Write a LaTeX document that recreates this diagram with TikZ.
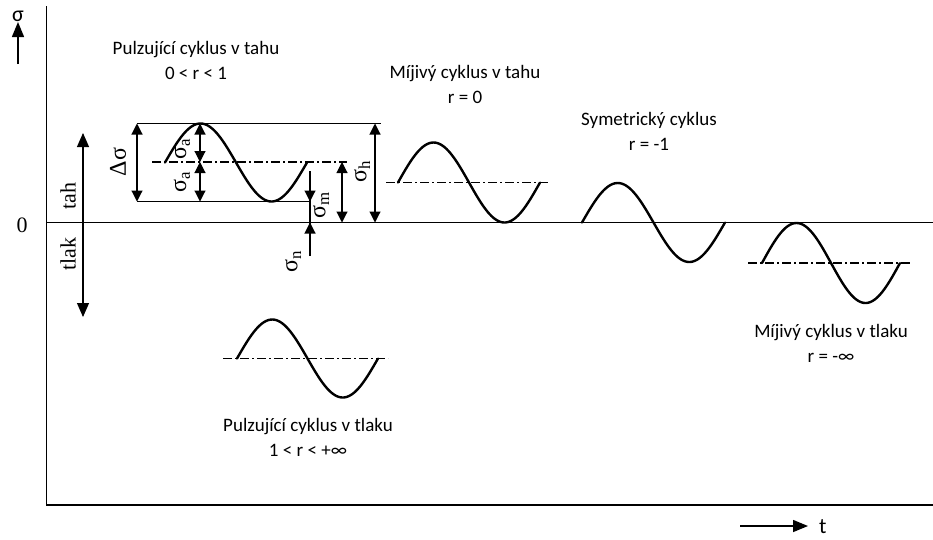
\documentclass[tikz,border=0pt]{standalone}
\usepackage{fontspec}
\setmainfont{Carlito}
\newfontfamily\serfont{Liberation Serif}
\usetikzlibrary{arrows.meta}
\begin{document}
\begin{tikzpicture}[x=1pt,y=-1pt,
  axis/.style={line width=1.6pt},
  curve/.style={line width=2.4pt, line cap=round},
  meanline/.style={line width=1.2pt, dash pattern=on 9pt off 3pt on 2pt off 3pt},
  dimline/.style={line width=1.1pt},
  tip/.style={line width=1.1pt, -{Triangle[length=11pt,width=11pt]}},
  dimarr/.style={line width=1.1pt, {Triangle[length=11pt,width=11pt]}-{Triangle[length=11pt,width=11pt]}},
  lab/.style={font=\fontsize{19}{25}\selectfont, align=center, inner sep=0pt},
  glab/.style={font=\serfont\fontsize{24}{26}\selectfont, rotate=90, inner sep=0pt},
  wlab/.style={font=\serfont\fontsize{22}{24}\selectfont, rotate=90, inner sep=0pt},
]
\useasboundingbox (0,0) rectangle (933,539);
\fill[white] (0,0) rectangle (933,539);

% axes
\coordinate (Atop) at (46.5,6);
\coordinate (Abot) at (46.5,505);
\coordinate (Aend) at (933,505);
\coordinate (Zl) at (46.5,222.5);
\coordinate (Zr) at (933,222.5);
\draw[axis] (Atop) -- (Abot) -- (Aend);
\draw[axis] (Zl) -- (Zr);

% sigma axis arrow
\node[font=\fontsize{22}{24}\selectfont, inner sep=0pt] (sig) at (18,16) {σ};
\coordinate (sA) at (18,64);
\coordinate (sB) at (18,22);
\draw[line width=1.4pt, -{Triangle[length=15pt,width=12pt]}] (sA) -- (sB);

% t arrow
\coordinate (tA) at (740,526);
\coordinate (tB) at (808,526);
\draw[line width=1.4pt, -{Triangle[length=15pt,width=12pt]}] (tA) -- (tB);
\node[font=\fontsize{22}{24}\selectfont, inner sep=0pt, anchor=west] (tt) at (819,527) {t};

% zero and tah/tlak
\node[font=\serfont\fontsize{22}{24}\selectfont, inner sep=0pt] (zero) at (22,225) {0};
\coordinate (ttA) at (83,133);
\coordinate (ttB) at (83,317);
\draw[line width=1.1pt, {Triangle[length=14pt,width=12pt]}-{Triangle[length=14pt,width=12pt]}] (ttA) -- (ttB);
\node[wlab] (tah) at (68,196) {tah};
\node[wlab] (tlak) at (68,254) {tlak};

% cycle 1 reference lines
\coordinate (TL) at (137,123.5);
\coordinate (TR) at (381,123.5);
\coordinate (BL) at (137,201.5);
\coordinate (BR) at (311,201.5);
\coordinate (ML) at (152,162);
\coordinate (MR) at (347,162);
\draw[dimline] (TL) -- (TR);
\draw[dimline] (BL) -- (BR);
\draw[meanline] (ML) -- (MR);

% dimension arrows
\coordinate (dsT) at (137,123.5);
\coordinate (dsB) at (137,201.5);
\draw[dimarr] (dsT) -- (dsB);
\coordinate (saT) at (200,123.5);
\coordinate (saM) at (200,162);
\coordinate (saB) at (200,201.5);
\draw[dimarr] (saT) -- (saM);
\draw[dimarr] (saM) -- (saB);
\coordinate (smT) at (342,162);
\coordinate (smB) at (342,222.5);
\draw[dimarr] (smT) -- (smB);
\coordinate (shT) at (375,123.5);
\coordinate (shB) at (375,222.5);
\draw[dimarr] (shT) -- (shB);
\coordinate (snA) at (310,171);
\coordinate (snB) at (310,201.5);
\coordinate (snC) at (310,222.5);
\coordinate (snD) at (310,256);
\draw[dimline] (snA) -- (snD);
\draw[tip] (snA) -- (snB);
\draw[tip] (snD) -- (snC);

% labels
\node[glab] (ds) at (118,162) {Δσ};
\node[glab] (sa1) at (182,149) {σ\textsubscript{a}};
\node[glab] (sa2) at (182,182) {σ\textsubscript{a}};
\node[glab] (sm) at (321,205) {σ\textsubscript{m}};
\node[glab] (sh) at (362,172) {σ\textsubscript{h}};
\node[glab] (sn) at (293,262) {σ\textsubscript{n}};

% mean lines of other cycles
\coordinate (m2a) at (386,182.5);
\coordinate (m2b) at (548,182.5);
\draw[meanline] (m2a) -- (m2b);
\coordinate (m4a) at (748,263);
\coordinate (m4b) at (911,263);
\draw[meanline] (m4a) -- (m4b);
\coordinate (m5a) at (223,358.5);
\coordinate (m5b) at (388,358.5);
\draw[meanline] (m5a) -- (m5b);

% curves
\draw[curve] plot[variable=\t,domain=0:1,samples=80,smooth] ({165+142*\t},{162.5-39*sin(360*\t)});
\draw[curve] plot[variable=\t,domain=0:1,samples=80,smooth] ({398+142*\t},{182.5-40*sin(360*\t)});
\draw[curve] plot[variable=\t,domain=0:1,samples=80,smooth] ({582+143*\t},{222.5-39.5*sin(360*\t)});
\draw[curve] plot[variable=\t,domain=0:1,samples=80,smooth] ({762+138*\t},{263-40*sin(360*\t)});
\draw[curve] plot[variable=\t,domain=0:1,samples=80,smooth] ({237+141*\t},{358.5-39*sin(360*\t)});

% titles
\node[lab] (t1) at (196,60) {Pulzující cyklus v tahu\\0 < r < 1};
\node[lab] (t2) at (465,84) {Míjivý cyklus v tahu\\r = 0};
\node[lab] (t3) at (649,131) {Symetrický cyklus\\r = -1};
\node[lab] (t4) at (831,343) {Míjivý cyklus v tlaku\\r = -∞};
\node[lab] (t5) at (308,437) {Pulzující cyklus v tlaku\\1 < r < +∞};
\end{tikzpicture}
\end{document}
